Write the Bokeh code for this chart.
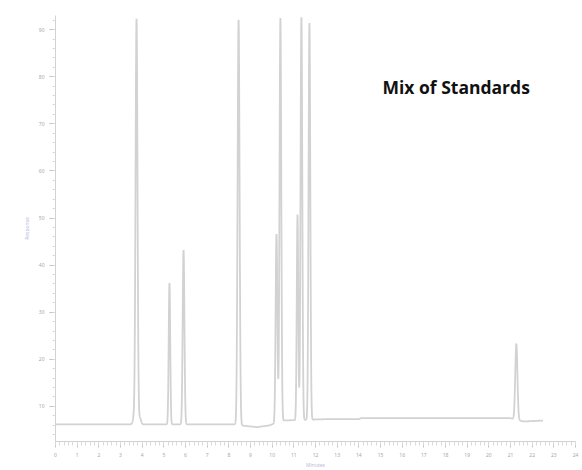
import numpy as np
from bokeh.plotting import figure
from bokeh.models import Label, SingleIntervalTicker
from bokeh.embed import file_html
from bokeh.resources import INLINE

# Peak table: retention time (min), apex height, peak width (sigma, min)
peak_times = [3.62, 3.74, 3.90, 5.26, 5.91, 8.45, 10.20, 10.38, 11.17, 11.35, 11.72, 21.27]
peak_heights = [1.5, 86.0, 1.3, 30.0, 37.0, 86.0, 40.0, 85.5, 43.6, 85.5, 84.2, 16.1]
peak_widths = [0.05, 0.045, 0.05, 0.035, 0.04, 0.045, 0.04, 0.04, 0.035, 0.04, 0.04, 0.05]

# Baseline drift: (time, level)
base_times = [0.0, 8.3, 8.7, 9.3, 9.9, 10.4, 12.5, 14.0, 14.1, 21.0, 21.6, 22.5]
base_levels = [6.2, 6.2, 5.9, 5.6, 6.0, 7.0, 7.3, 7.3, 7.5, 7.5, 6.8, 7.0]

t = np.linspace(0.0, 22.5, 9001)
signal = np.interp(t, base_times, base_levels)
for rt, h, w in zip(peak_times, peak_heights, peak_widths):
    signal = signal + h * np.exp(-0.5 * ((t - rt) / w) ** 2)

p = figure(width=582, height=470, x_range=(0, 24), y_range=(2.55, 93.0),
           output_backend="svg", toolbar_location=None,
           min_border_left=55, min_border_right=7, min_border_top=15, min_border_bottom=29)
p.outline_line_color = None
p.grid.visible = False
p.background_fill_color = "white"
p.border_fill_color = "white"

p.line(t, signal, line_color="#d2d2d2", line_width=1.8)

axis_col = "#d2d2d2"
for ax in (p.xaxis[0], p.yaxis[0]):
    ax.axis_line_color = axis_col
    ax.major_tick_line_color = "#c4c4c4"
    ax.minor_tick_line_color = "#dadada"
    ax.major_label_text_color = "#a8a8a8"
    ax.major_label_text_font = "Noto Sans"
    ax.major_label_text_font_size = "5px"
    ax.axis_label_text_color = "#b8c0d8"
    ax.axis_label_text_font = "Noto Sans"
    ax.axis_label_text_font_size = "5px"
    ax.axis_label_text_font_style = "normal"

p.xaxis.ticker = SingleIntervalTicker(interval=1, num_minor_ticks=5)
p.xaxis.major_tick_out = 6
p.xaxis.minor_tick_out = 4
p.xaxis.major_tick_in = 0
p.xaxis.minor_tick_in = 0
p.xaxis.axis_label = "Minutes"
p.xaxis.axis_label_standoff = 2
p.xaxis.major_label_standoff = 5

p.yaxis.ticker = SingleIntervalTicker(interval=10, num_minor_ticks=5)
p.yaxis.major_tick_out = 6
p.yaxis.minor_tick_out = 3
p.yaxis.major_tick_in = 0
p.yaxis.minor_tick_in = 0
p.yaxis.axis_label = "Response"
p.yaxis.axis_label_standoff = 6
p.yaxis.major_label_standoff = 5

p.add_layout(Label(x=327, y=354.5, x_units="screen", y_units="screen",
                   text="Mix of Standards", text_align="left", text_baseline="alphabetic",
                   text_font="Open Sans", text_font_style="bold",
                   text_font_size="17.5px", text_color="#111111"))

open("out.html", "w").write(file_html(p, INLINE))
